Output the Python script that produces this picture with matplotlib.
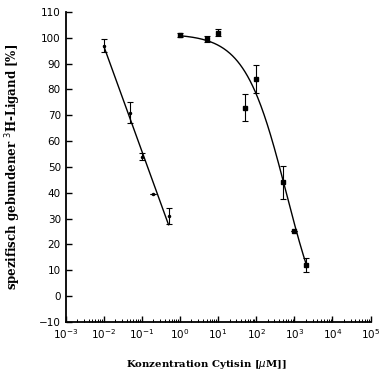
#!/usr/bin/env python

"""
Displacement of specific 3H-ligand binding by cytisine at two binding sites.
Left: high-affinity site (linear fit in log concentration).
Right: low-affinity site (four-parameter logistic fit).
"""

import numpy as np
import matplotlib.pyplot as plt
from matplotlib.ticker import LogLocator, NullFormatter

# high-affinity site
conc_a = [0.01, 0.05, 0.1, 0.2, 0.5]          # uM
bound_a = [97, 71, 54, 39.5, 31]              # %
err_a = [2.5, 4, 1.5, 0, 3]

# low-affinity site
conc_b = [1, 5, 10, 50, 100, 500, 1000, 2000]  # uM
bound_b = [101, 99.5, 102, 73, 84, 44, 25, 12]
err_b = [0.8, 1, 1.5, 5.4, 5.4, 6.4, 0, 2.7]

# logistic fit parameters for the low-affinity site: top, bottom, IC50 (uM), slope
fit_b = [101.5, -22.0, 620.0, 0.8]

yticks = list(range(-10, 111, 10))


def logistic(x, top, bottom, ic50, n):
    return bottom + (top - bottom) / (1 + (x / ic50) ** n)


def main(sfilename):
    fig = plt.figure(figsize=(3.82, 3.73), dpi=100)
    ax = fig.add_axes([0.172, 0.137, 0.798, 0.831])

    # linear regression against log concentration
    la = np.log10(conc_a)
    slope, icpt = np.polyfit(la, bound_a, 1)
    xa = np.array([la.min(), la.max()])
    ax.plot(10 ** xa, slope * xa + icpt, color='k', linewidth=1)
    ax.errorbar(conc_a, bound_a, yerr=err_a, fmt='.', color='k', markersize=3,
                elinewidth=0.8, capsize=2.5, capthick=0.8)

    xb = np.logspace(np.log10(min(conc_b)), np.log10(max(conc_b)), 200)
    ax.plot(xb, logistic(xb, *fit_b), color='k', linewidth=1)
    ax.errorbar(conc_b, bound_b, yerr=err_b, fmt='s', color='k', markersize=3.5,
                elinewidth=0.8, capsize=2.5, capthick=0.8)

    ax.set_xscale('log')
    ax.set_xlim(1e-3, 1e5)
    ax.set_ylim(-10, 110)
    ax.set_yticks(yticks)
    ax.set_xticks([10.0 ** e for e in range(-3, 6)])
    ax.xaxis.set_minor_locator(LogLocator(base=10, subs=np.arange(2, 10), numticks=20))
    ax.xaxis.set_minor_formatter(NullFormatter())

    for s in ['top', 'right']:
        ax.spines[s].set_visible(False)
    for s in ['left', 'bottom']:
        ax.spines[s].set_linewidth(1.3)
    ax.tick_params(which='major', direction='in', length=4, width=1, labelsize=7.5)
    ax.tick_params(which='minor', direction='in', length=2, width=0.7)

    ax.set_xlabel('Konzentration Cytisin [$\\mu$M]]', fontfamily='DejaVu Serif',
                  fontweight='bold', fontsize=7.3)
    ax.xaxis.set_label_coords(0.46, -0.115)
    ax.set_ylabel('spezifisch gebundener $^3$H-Ligand [%]', fontfamily='DejaVu Serif',
                  fontweight='bold', fontsize=8.5)
    ax.yaxis.set_label_coords(-0.14, 0.5)

    plt.savefig(sfilename, dpi=100)
    plt.close()


if __name__ == '__main__':
    main('out.png')
